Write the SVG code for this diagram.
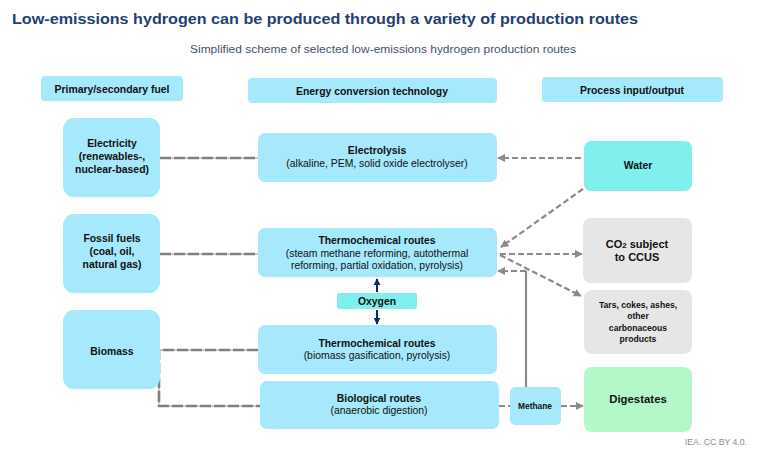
<svg xmlns="http://www.w3.org/2000/svg" width="757" height="454" viewBox="0 0 757 454">
<style>
text{font-family:"Liberation Sans",Arial,sans-serif;fill:#111;text-anchor:middle}
.b{font-weight:bold}
.blue{fill:#a6e8fc}
.cyan{fill:#7ff0ee}
.gray{fill:#e6e6e6}
.green{fill:#b4f7c9}
.n{font-size:10.4px}
.dash{fill:none;stroke:#8a8a8a;stroke-width:2.2;stroke-dasharray:6 3}
.ldash{fill:none;stroke:#808080;stroke-width:2.6;stroke-dasharray:11 3}
.lbase{fill:none;stroke:#9a9a9a;stroke-width:1}
</style>
<defs>
<marker id="ah" viewBox="0 0 10 10" refX="9" refY="5" markerWidth="8" markerHeight="8" markerUnits="userSpaceOnUse" orient="auto">
<path d="M0,0L10,5L0,10z" fill="#8a8a8a"/>
</marker>
<marker id="nav" viewBox="0 0 10 10" refX="9" refY="5" markerWidth="7" markerHeight="7" markerUnits="userSpaceOnUse" orient="auto">
<path d="M0,0L10,5L0,10z" fill="#0b2a66"/>
</marker>
</defs>
<rect width="757" height="454" fill="#fff"/>
<text x="12" y="24" class="b" style="font-size:14.2px;fill:#1f3f77;text-anchor:start" textLength="626" lengthAdjust="spacingAndGlyphs">Low-emissions hydrogen can be produced through a variety of production routes</text>
<text x="383" y="53" style="font-size:11px;fill:#44546a" textLength="386" lengthAdjust="spacingAndGlyphs">Simplified scheme of selected low-emissions hydrogen production routes</text>

<g id="hdr-fuel"><rect x="41" y="76" width="142" height="25" rx="4" class="blue"/><text x="112" y="93" class="b n">Primary/secondary fuel</text></g>
<g id="hdr-tech"><rect x="248" y="78" width="249" height="25" rx="4" class="blue"/><text x="372" y="95" class="b n">Energy conversion technology</text></g>
<g id="hdr-io"><rect x="542" y="77" width="181" height="25" rx="4" class="blue"/><text x="632" y="94" class="b n">Process input/output</text></g>

<g id="connectors">
<line x1="160" y1="158" x2="258" y2="158" class="lbase"/>
<line x1="160" y1="158" x2="258" y2="158" class="ldash"/>
<line x1="160" y1="254" x2="258" y2="254" class="lbase"/>
<line x1="160" y1="254" x2="258" y2="254" class="ldash"/>
<path d="M160,350H258M159,350V406H260" class="lbase"/>
<path d="M258,350H159V406H260" class="ldash"/>
<line x1="581" y1="158" x2="498" y2="158" class="dash" marker-end="url(#ah)"/>
<line x1="583" y1="189" x2="501" y2="247" class="dash" marker-end="url(#ah)"/>
<line x1="500" y1="254" x2="582" y2="254" class="dash" marker-end="url(#ah)"/>
<line x1="500" y1="255" x2="581" y2="296" class="dash" marker-end="url(#ah)"/>
<line x1="526" y1="387" x2="526" y2="271" stroke="#8a8a8a" stroke-width="2.2"/>
<line x1="526" y1="271" x2="498" y2="271" class="dash" marker-end="url(#ah)"/>
<line x1="499" y1="406" x2="510" y2="406" class="dash"/>
<line x1="561" y1="406" x2="583" y2="406" class="dash" marker-end="url(#ah)"/>
<line x1="377" y1="292" x2="377" y2="279" stroke="#0b2a66" stroke-width="2" marker-end="url(#nav)"/>
<line x1="377" y1="310" x2="377" y2="324" stroke="#0b2a66" stroke-width="2" marker-end="url(#nav)"/>
</g>

<g id="electricity"><rect x="63" y="118" width="97" height="79" rx="11" class="blue"/>
<text class="b n"><tspan x="112" y="147">Electricity</tspan><tspan x="112" y="160">(renewables-,</tspan><tspan x="112" y="173">nuclear-based)</tspan></text></g>
<g id="fossil"><rect x="63" y="214" width="97" height="79" rx="11" class="blue"/>
<text class="b n"><tspan x="112" y="242">Fossil fuels</tspan><tspan x="112" y="255">(coal, oil,</tspan><tspan x="112" y="268">natural gas)</tspan></text></g>
<g id="biomass"><rect x="63" y="310" width="97" height="79" rx="11" class="blue"/>
<text x="112" y="355" class="b n">Biomass</text></g>

<g id="electrolysis"><rect x="258" y="133" width="239" height="49" rx="7" class="blue"/>
<text class="n"><tspan x="377" y="154" class="b">Electrolysis</tspan><tspan x="377" y="167">(alkaline, PEM, solid oxide electrolyser)</tspan></text></g>
<g id="thermo-fossil"><rect x="258" y="228" width="239" height="49" rx="7" class="blue"/>
<text class="n"><tspan x="377" y="244" class="b">Thermochemical routes</tspan><tspan x="377" y="257">(steam methane reforming, autothermal</tspan><tspan x="377" y="269">reforming, partial oxidation, pyrolysis)</tspan></text></g>
<g id="oxygen"><rect x="337" y="293" width="80" height="16" rx="2" class="cyan"/>
<text x="377" y="305" class="b n">Oxygen</text></g>
<g id="thermo-biomass"><rect x="258" y="325" width="239" height="49" rx="7" class="blue"/>
<text class="n"><tspan x="377" y="347" class="b">Thermochemical routes</tspan><tspan x="377" y="359">(biomass gasification, pyrolysis)</tspan></text></g>
<g id="biological"><rect x="260" y="381" width="239" height="48" rx="7" class="blue"/>
<text class="n"><tspan x="379" y="402" class="b">Biological routes</tspan><tspan x="379" y="414">(anaerobic digestion)</tspan></text></g>
<g id="methane"><rect x="510" y="387" width="51" height="38" rx="5" class="blue"/>
<text x="535" y="409" class="b" style="font-size:8.4px">Methane</text></g>

<g id="water"><rect x="584" y="141" width="108" height="50" rx="7" class="cyan"/>
<text x="638" y="169" class="b n">Water</text></g>
<g id="co2"><rect x="583" y="218" width="109" height="65" rx="8" class="gray"/>
<text class="b" style="font-size:11px"><tspan x="637" y="248">CO<tspan style="font-size:8px">2</tspan> subject</tspan><tspan x="637" y="261">to CCUS</tspan></text></g>
<g id="tars"><rect x="584" y="290" width="108" height="64" rx="8" class="gray"/>
<text class="b" style="font-size:8.6px"><tspan x="638" y="308">Tars, cokes, ashes,</tspan><tspan x="638" y="319">other</tspan><tspan x="638" y="331">carbonaceous</tspan><tspan x="638" y="342">products</tspan></text></g>
<g id="digestates"><rect x="584" y="367" width="108" height="65" rx="8" class="green"/>
<text x="638" y="403" class="b" style="font-size:11.4px">Digestates</text></g>

<text x="747" y="445" style="font-size:8.7px;fill:#8c8c8c;text-anchor:end">IEA. CC BY 4.0.</text>
</svg>
